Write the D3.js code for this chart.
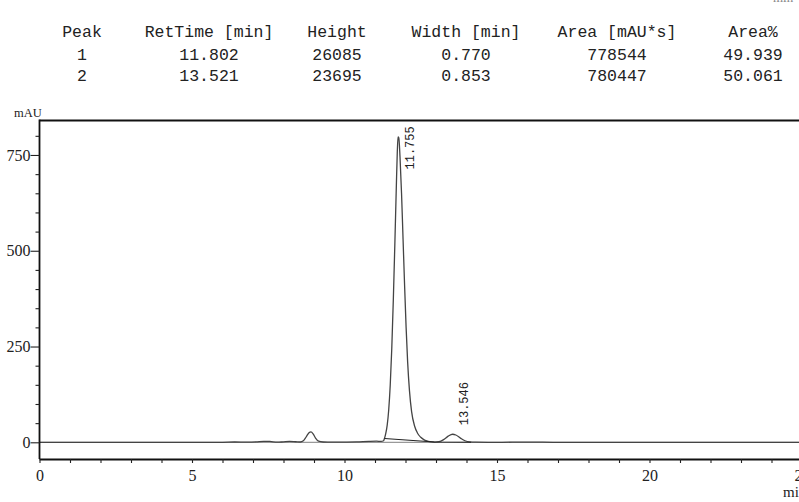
<!DOCTYPE html>
<html><head><meta charset="utf-8">
<script src="https://cdn.jsdelivr.net/npm/d3@7"></script>
<style>
html,body{margin:0;padding:0;background:#fff;overflow:hidden;}
svg{display:block;}
</style></head>
<body>
<svg id="chart" width="799" height="502"></svg>
<script>
// ---- data ----
const tableHeaders = ["Peak", "RetTime [min]", "Height", "Width [min]", "Area [mAU*s]", "Area%"];
const peakNumbers = ["1", "2"];
const peakRetTimes = ["11.802", "13.521"];
const peakHeights = ["26085", "23695"];
const peakWidths = ["0.770", "0.853"];
const peakAreas = ["778544", "780447"];
const peakAreaPct = ["49.939", "50.061"];

const signalTimes = [0, 6.0, 6.4, 6.8, 7.1, 7.35, 7.55, 7.8, 8.0, 8.2, 8.4, 8.55, 8.65, 8.75, 8.85, 8.9, 8.97, 9.05, 9.15, 9.3, 9.6, 10.0, 10.4, 10.8, 11.05, 11.2, 11.28, 11.31, 11.35, 11.40, 11.45, 11.50, 11.55, 11.60, 11.65, 11.70, 11.73, 11.755, 11.78, 11.82, 11.87, 11.92, 11.97, 12.02, 12.07, 12.13, 12.20, 12.30, 12.40, 12.50, 12.60, 12.70, 12.80, 12.95, 13.10, 13.25, 13.40, 13.546, 13.65, 13.80, 13.95, 14.10, 14.30, 15.0, 16.0, 17.0, 25.5];
const signalValues = [0, 0, 0.8, 0.4, 1.0, 2.6, 2.2, 0.2, 1.2, 2.2, 1.4, 0.8, 4, 15, 26, 27, 22, 11, 3, 0.8, 0.3, 0.5, 1, 2.5, 3, 2.2, 4, 10, 22, 45, 85, 150, 245, 370, 515, 670, 755, 797, 795, 745, 650, 530, 410, 300, 210, 135, 80, 42, 23, 13, 7, 3.5, 1.5, 0.5, 1.5, 7, 16, 21, 19, 11, 4, 1, 0.3, 0, 0.5, 0, 0];

const baselineTimes = [11.31, 12.95, 14.15];
const baselineValues = [10, 0.8, 0.3];

const peakLabels = ["11.755", "13.546"];
const peakLabelTimes = [11.755, 13.546];
const peakLabelValues = [797, 21];

const xMajorTicks = [0, 5, 10, 15, 20, 25];
const yMajorTicks = [0, 250, 500, 750];

// ---- drawing ----
const svg = d3.select("#chart");
const mL = 39.5, mR = 802, mT = 120.5, mB = 459;
const x = d3.scaleLinear().domain([0, 25]).range([mL, mR]);
const y = d3.scaleLinear().domain([-43.6, 840]).range([mB, mT]);

// table
const colCenters = [82, 209, 337, 466, 617, 753];
const rowBase = [36.5, 60, 81];
const tbl = svg.append("g").attr("font-family", "'Liberation Mono', monospace")
  .attr("font-size", 16.5).attr("fill", "#222").attr("text-anchor", "middle");
const rows = [tableHeaders,
  [peakNumbers[0], peakRetTimes[0], peakHeights[0], peakWidths[0], peakAreas[0], peakAreaPct[0]],
  [peakNumbers[1], peakRetTimes[1], peakHeights[1], peakWidths[1], peakAreas[1], peakAreaPct[1]]];
rows.forEach((r, ri) => r.forEach((c, ci) => {
  tbl.append("text").attr("x", colCenters[ci]).attr("y", rowBase[ri]).text(c);
}));

// cut "min" top right (cropped in the original too)
svg.append("text").attr("x", 773).attr("y", 1.5).attr("font-family", "'Liberation Serif', serif")
  .attr("font-size", 13).attr("fill", "#888").text("min");

// zero line
svg.append("line").attr("x1", mL).attr("x2", 799).attr("y1", y(0)).attr("y2", y(0))
  .attr("stroke", "#999").attr("stroke-width", 1.2);

// signal
const pts = signalTimes.map((t, i) => [t, signalValues[i]]);
svg.append("path").datum(pts)
  .attr("d", d3.line().x(d => x(d[0])).y(d => y(d[1])).curve(d3.curveMonotoneX))
  .attr("fill", "none").attr("stroke", "#444").attr("stroke-width", 1.3);

// integration baseline
const bpts = baselineTimes.map((t, i) => [t, baselineValues[i]]);
svg.append("path").datum(bpts)
  .attr("d", d3.line().x(d => x(d[0])).y(d => y(d[1])))
  .attr("fill", "none").attr("stroke", "#222").attr("stroke-width", 1.1);

// axes frame
svg.append("line").attr("x1", mL).attr("x2", 799).attr("y1", mT).attr("y2", mT)
  .attr("stroke", "#111").attr("stroke-width", 1.8);
svg.append("line").attr("x1", mL).attr("x2", mL).attr("y1", mT - 0.9).attr("y2", mB)
  .attr("stroke", "#111").attr("stroke-width", 1.8);

// x axis
const xAxis = d3.axisBottom(x).tickValues(d3.range(0, 26, 1)).tickSize(4)
  .tickFormat(d => xMajorTicks.includes(d) ? d : "");
const gx = svg.append("g").attr("transform", `translate(0,${mB})`).call(xAxis);
gx.select(".domain").attr("stroke", "#111").attr("stroke-width", 1.8).attr("d", `M${mL},0.5H799`);
gx.selectAll(".tick line").attr("stroke", "#222").attr("stroke-width", 1.1);
gx.selectAll(".tick text").attr("font-family", "'Liberation Serif', serif").attr("font-size", 16)
  .attr("fill", "#222").attr("dy", "0.95em");

// y axis
const yAxis = d3.axisLeft(y).tickValues(d3.range(50, 801, 50).concat([0]))
  .tickSize(4).tickFormat(d => yMajorTicks.includes(d) ? d : "");
const gy = svg.append("g").attr("transform", `translate(${mL},0)`).call(yAxis);
gy.select(".domain").remove();
gy.selectAll(".tick line").attr("stroke", "#222").attr("stroke-width", 1.1)
  .attr("x2", d => yMajorTicks.includes(d) ? -9 : -4);
gy.selectAll(".tick text").attr("font-family", "'Liberation Serif', serif").attr("font-size", 16)
  .attr("fill", "#222").attr("x", -9);

// axis unit labels
svg.append("text").attr("x", 14).attr("y", 117).attr("font-family", "'Liberation Serif', serif")
  .attr("font-size", 12.5).attr("fill", "#222").text("mAU");
svg.append("text").attr("x", 783).attr("y", 497).attr("font-family", "'Liberation Serif', serif")
  .attr("font-size", 15).attr("fill", "#222").text("min");

// peak labels (rotated)
peakLabels.forEach((lab, i) => {
  const px = x(peakLabelTimes[i]) + 15.5;
  let start = y(peakLabelValues[i]) - 9;
  const len = 44;
  if (start - len < mT + 5) start = mT + 5 + len;
  svg.append("text").attr("transform", `translate(${px},${start}) rotate(-90)`)
    .attr("font-family", "'Liberation Mono', monospace").attr("font-size", 12)
    .attr("fill", "#222").text(lab);
});
</script>
</body></html>
